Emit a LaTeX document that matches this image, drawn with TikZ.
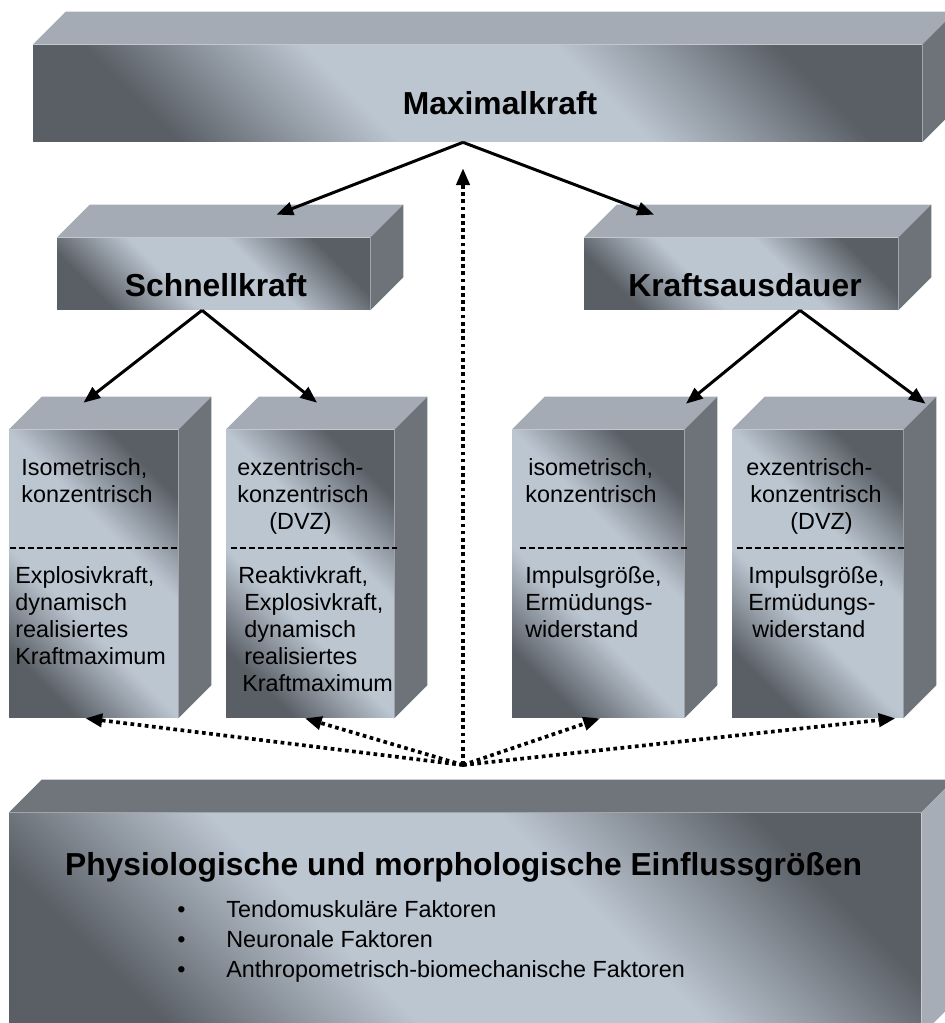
\documentclass[tikz,border=0pt]{standalone}
\usepackage{fontspec}
\setmainfont{Liberation Sans}
\usetikzlibrary{arrows.meta, calc}
\definecolor{hell}{RGB}{188,198,209}
\definecolor{dunkel}{RGB}{90,95,102}
\definecolor{deckelgrau}{RGB}{164,171,180}
\definecolor{seitengrau}{RGB}{110,115,122}
\definecolor{bodendeckel}{RGB}{112,117,124}
\definecolor{bodenseite}{RGB}{166,173,182}
\pgfdeclareverticalshading{quader}{100bp}{color(0bp)=(dunkel); color(25bp)=(dunkel); color(41bp)=(hell); color(59bp)=(hell); color(75bp)=(dunkel); color(100bp)=(dunkel)}

\begin{document}
\begin{tikzpicture}[>={Triangle[length=9.5pt, width=7.5pt]}, x=0.02cm, y=-0.02cm,
	front/.style={shading=quader, shading angle=-45, inner sep=0},
	deckel/.style={fill=deckelgrau}, seite/.style={fill=seitengrau},
	trenn/.style={line width=0.7pt, dash pattern=on 3.4pt off 1.7pt},
	pfeil/.style={->, line width=1.7pt}, punktpfeil/.style={->, line width=2.1pt, dotted},
	titel/.style={font={\fontsize{18.1}{22}\selectfont\bfseries}, anchor=base, inner sep=0},
	txt/.style={font={\fontsize{13.3}{15.4}\selectfont}, align=left, anchor=north west, inner sep=0}]
		\useasboundingbox (0,0) rectangle (944,1023);
		
		\node[front, minimum width=17.78cm, minimum height=1.94cm] (max) at (477.5,93.5) {};
		\fill[deckel] (max.north west) -- ++(33,-33) -- ($(max.north east)+(33,-33)$) -- (max.north east) -- cycle; \fill[seite] (max.north east) -- ++(33,-33) -- ($(max.south east)+(33,-33)$) -- (max.south east) -- cycle;
		\node[titel] (maxtxt) at (500,115) {Maximalkraft};
		
		\node[front, minimum width=6.26cm, minimum height=1.44cm] (schnell) at (213.5,274) {};
		\fill[deckel] (schnell.north west) -- ++(33,-33) -- ($(schnell.north east)+(33,-33)$) -- (schnell.north east) -- cycle; \fill[seite] (schnell.north east) -- ++(33,-33) -- ($(schnell.south east)+(33,-33)$) -- (schnell.south east) -- cycle;
		\node[titel] (schnelltxt) at (216,297) {Schnellkraft};
		
		\node[front, minimum width=6.28cm, minimum height=1.44cm] (ausdauer) at (741,274) {};
		\fill[deckel] (ausdauer.north west) -- ++(33,-33) -- ($(ausdauer.north east)+(33,-33)$) -- (ausdauer.north east) -- cycle; \fill[seite] (ausdauer.north east) -- ++(33,-33) -- ($(ausdauer.south east)+(33,-33)$) -- (ausdauer.south east) -- cycle;
		\node[titel] (ausdauertxt) at (745,297) {Kraftsausdauer};
		
		\node[front, minimum width=3.38cm, minimum height=5.76cm] (iso1) at (93.5,574) {};
		\fill[deckel] (iso1.north west) -- ++(33,-33) -- ($(iso1.north east)+(33,-33)$) -- (iso1.north east) -- cycle; \fill[seite] (iso1.north east) -- ++(33,-33) -- ($(iso1.south east)+(33,-33)$) -- (iso1.south east) -- cycle;
		\draw[trenn] (10,548) -- (177,548);
		\node[txt] (iso1oben) at (21,458) {Isometrisch,\\konzentrisch};
		\node[txt] (iso1unten) at (15,566) {Explosivkraft,\\dynamisch\\realisiertes\\Kraftmaximum};
		
		\node[front, minimum width=3.36cm, minimum height=5.76cm] (dvz1) at (310,574) {};
		\fill[deckel] (dvz1.north west) -- ++(33,-33) -- ($(dvz1.north east)+(33,-33)$) -- (dvz1.north east) -- cycle; \fill[seite] (dvz1.north east) -- ++(33,-33) -- ($(dvz1.south east)+(33,-33)$) -- (dvz1.south east) -- cycle;
		\draw[trenn] (231,548) -- (397,548);
		\node[txt] (dvz1oben) at (237,458) {exzentrisch-\\konzentrisch\\\hspace*{0.64cm}(DVZ)};
		\node[txt] (dvz1unten) at (238,566) {Reaktivkraft,\\\hspace*{0.12cm}Explosivkraft,\\\hspace*{0.12cm}dynamisch\\\hspace*{0.12cm}realisiertes\\\hspace*{0.08cm}Kraftmaximum};
		
		\node[front, minimum width=3.44cm, minimum height=5.76cm] (iso2) at (598,574) {};
		\fill[deckel] (iso2.north west) -- ++(33,-33) -- ($(iso2.north east)+(33,-33)$) -- (iso2.north east) -- cycle; \fill[seite] (iso2.north east) -- ++(33,-33) -- ($(iso2.south east)+(33,-33)$) -- (iso2.south east) -- cycle;
		\draw[trenn] (520,548) -- (688,548);
		\node[txt] (iso2oben) at (525,458) {\hspace*{0.06cm}isometrisch,\\konzentrisch};
		\node[txt] (iso2unten) at (525,566) {Impulsgröße,\\Ermüdungs-\\widerstand};
		
		\node[front, minimum width=3.42cm, minimum height=5.76cm] (dvz2) at (817.5,574) {};
		\fill[deckel] (dvz2.north west) -- ++(33,-33) -- ($(dvz2.north east)+(33,-33)$) -- (dvz2.north east) -- cycle; \fill[seite] (dvz2.north east) -- ++(33,-33) -- ($(dvz2.south east)+(33,-33)$) -- (dvz2.south east) -- cycle;
		\draw[trenn] (737,548) -- (906,548);
		\node[txt] (dvz2oben) at (746,458) {exzentrisch-\\\hspace*{0.08cm}konzentrisch\\\hspace*{0.88cm}(DVZ)};
		\node[txt] (dvz2unten) at (748,566) {Impulsgröße,\\Ermüdungs-\\\hspace*{0.08cm}widerstand};
		
		\node[front, minimum width=18.24cm, minimum height=4.44cm] (einfluss) at (465,924) {};
		\fill[bodendeckel] (einfluss.north west) -- ++(33,-33) -- ($(einfluss.north east)+(33,-33)$) -- (einfluss.north east) -- cycle; \fill[bodenseite] (einfluss.north east) -- ++(33,-33) -- ($(einfluss.south east)+(33,-33)$) -- (einfluss.south east) -- cycle;
		\node[titel] (einflusstxt) at (463.5,875) {Physiologische und morphologische Einflussgrößen};
		\node[txt, font={\fontsize{13.3}{17}\selectfont}] (liste) at (177,900) {\makebox[0.98cm][l]{•}Tendomuskuläre Faktoren\\\makebox[0.98cm][l]{•}Neuronale Faktoren\\\makebox[0.98cm][l]{•}Anthropometrisch-biomechanische Faktoren};
		
		\draw[pfeil] ($(max.south)+(-14.5,0)$) -- ($(schnell.north)+(63,-23)$); \draw[pfeil] ($(max.south)+(-14.5,0)$) -- ($(ausdauer.north)+(-87,-23)$);
		\draw[pfeil] ($(schnell.south)+(-11.5,0)$) -- ($(iso1.north)+(-10,-27)$); \draw[pfeil] ($(schnell.south)+(-11.5,0)$) -- ($(dvz1.north)+(7,-27)$);
		\draw[pfeil] ($(ausdauer.south)+(59,0)$) -- ($(iso2.north)+(88,-26)$); \draw[pfeil] ($(ausdauer.south)+(59,0)$) -- ($(dvz2.north)+(108,-26)$);
		
		\coordinate (hub) at (463,765);
		\draw[punktpfeil, shorten >=0.52cm] (hub) -- ($(max.south)+(-14.5,0)$);
		\draw[punktpfeil] (hub) -- ($(iso1.south)+(-8,0)$); \draw[punktpfeil] (hub) -- ($(dvz1.south)+(-5,0)$);
		\draw[punktpfeil] (hub) -- ($(iso2.south)+(2,0)$); \draw[punktpfeil] (hub) -- ($(dvz2.south east)+(-8,0)$);
	\end{tikzpicture}
\end{document}
